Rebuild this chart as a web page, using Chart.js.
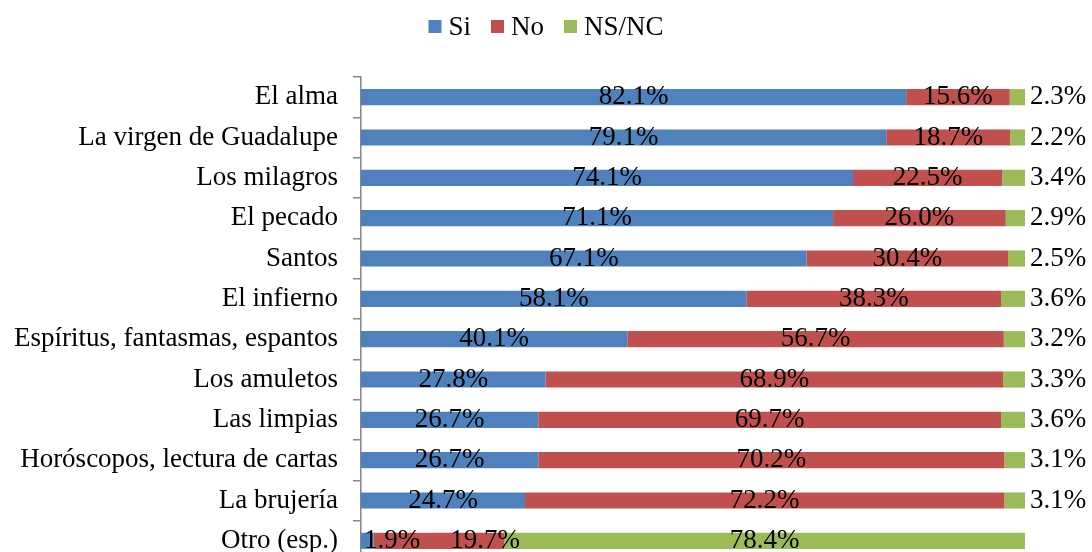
<!DOCTYPE html>
<html>
<head>
<meta charset="utf-8">
<script src="https://cdn.jsdelivr.net/npm/chart.js@4.4.1/dist/chart.umd.min.js"></script>
<style>
html, body { margin: 0; padding: 0; background: #fff; overflow: hidden; }
canvas { display: block; }
</style>
</head>
<body>
<canvas id="chart" width="1092" height="570" style="width:1092px;height:570px"></canvas>
<script>
const categories = [
    'El alma',
    'La virgen de Guadalupe',
    'Los milagros',
    'El pecado',
    'Santos',
    'El infierno',
    'Espíritus, fantasmas, espantos',
    'Los amuletos',
    'Las limpias',
    'Horóscopos, lectura de cartas',
    'La brujería',
    'Otro (esp.)'
];
const siValues   = [82.1, 79.1, 74.1, 71.1, 67.1, 58.1, 40.1, 27.8, 26.7, 26.7, 24.7, 1.9];
const noValues   = [15.6, 18.7, 22.5, 26.0, 30.4, 38.3, 56.7, 68.9, 69.7, 70.2, 72.2, 19.7];
const nsncValues = [2.3, 2.2, 3.4, 2.9, 2.5, 3.6, 3.2, 3.3, 3.6, 3.1, 3.1, 78.4];
const seriesNames = ['Si', 'No', 'NS/NC'];

const COLORS = ['#4F81BD', '#C0504D', '#9BBB59'];
const FONT = "'Liberation Serif', 'Times New Roman', serif";
const AXIS_GRAY = '#868686';

// legend drawn like the original: small square, tight gap, text
const topLegend = {
    id: 'topLegend',
    afterDraw(chart) {
        const ctx = chart.ctx;
        const box = 13, gapText = 7, gapItem = 20;
        ctx.save();
        ctx.font = `27px ${FONT}`;
        ctx.textBaseline = 'middle';
        ctx.textAlign = 'left';
        const items = chart.data.datasets.map(ds => ({
            text: ds.label,
            color: ds.backgroundColor,
            w: ctx.measureText(ds.label).width
        }));
        const total = items.reduce((s, it) => s + box + gapText + it.w, 0) + gapItem * (items.length - 1);
        let x = chart.width / 2 - total / 2;
        const cy = 26.5;
        items.forEach(it => {
            ctx.fillStyle = it.color;
            ctx.fillRect(x, cy - box / 2, box, box);
            x += box + gapText;
            ctx.fillStyle = '#000';
            ctx.fillText(it.text, x, cy + 1);
            x += it.w + gapItem;
        });
        ctx.restore();
    }
};

// percentage labels, centred in each segment; small NS/NC values go outside the bar
const valueLabels = {
    id: 'valueLabels',
    afterDatasetsDraw(chart) {
        const ctx = chart.ctx;
        const area = chart.chartArea;
        ctx.save();
        ctx.font = `27px ${FONT}`;
        ctx.fillStyle = '#000';
        ctx.textBaseline = 'middle';
        ctx.textAlign = 'left';

        chart.data.labels.forEach((label, j) => {
            let prevRight = null;
            chart.data.datasets.forEach((ds, i) => {
                const bar = chart.getDatasetMeta(i).data[j];
                const v = ds.data[j];
                const text = v.toFixed(1) + '%';
                const w = ctx.measureText(text).width;
                let left;
                if (i === 2 && v < 10) {
                    left = bar.x + 5;
                } else {
                    left = (bar.x + bar.base) / 2 - w / 2;
                }
                // keep labels off the axis and apart from each other
                if (prevRight === null) {
                    left = Math.max(left, area.left + 3);
                } else {
                    left = Math.max(left, prevRight + 30);
                }
                ctx.fillText(text, left, bar.y);
                prevRight = left + w;
            });
        });
        ctx.restore();
    }
};

const datasets = [siValues, noValues, nsncValues].map((values, i) => ({
    label: seriesNames[i],
    data: values,
    backgroundColor: COLORS[i],
    borderWidth: 0,
    barPercentage: 0.4,
    categoryPercentage: 1.0
}));

new Chart(document.getElementById('chart'), {
    type: 'bar',
    data: { labels: categories, datasets: datasets },
    options: {
        indexAxis: 'y',
        responsive: false,
        animation: false,
        layout: { padding: { top: 77, right: 67, bottom: 9, left: 0 } },
        plugins: {
            legend: { display: false },
            tooltip: { enabled: false }
        },
        scales: {
            x: {
                stacked: true,
                display: false,
                min: 0,
                max: 100
            },
            y: {
                stacked: true,
                afterFit(scale) {
                    scale.width = 361;
                    scale.paddingTop = 0;
                    scale.paddingBottom = 0;
                },
                grid: {
                    offset: true,
                    drawOnChartArea: false,
                    tickLength: 8,
                    color: AXIS_GRAY,
                    lineWidth: 1.5
                },
                border: { color: AXIS_GRAY, width: 1.5 },
                ticks: {
                    color: '#000',
                    padding: 15,
                    autoSkip: false,
                    font: { family: FONT, size: 27 }
                }
            }
        }
    },
    plugins: [topLegend, valueLabels]
});
</script>
</body>
</html>
